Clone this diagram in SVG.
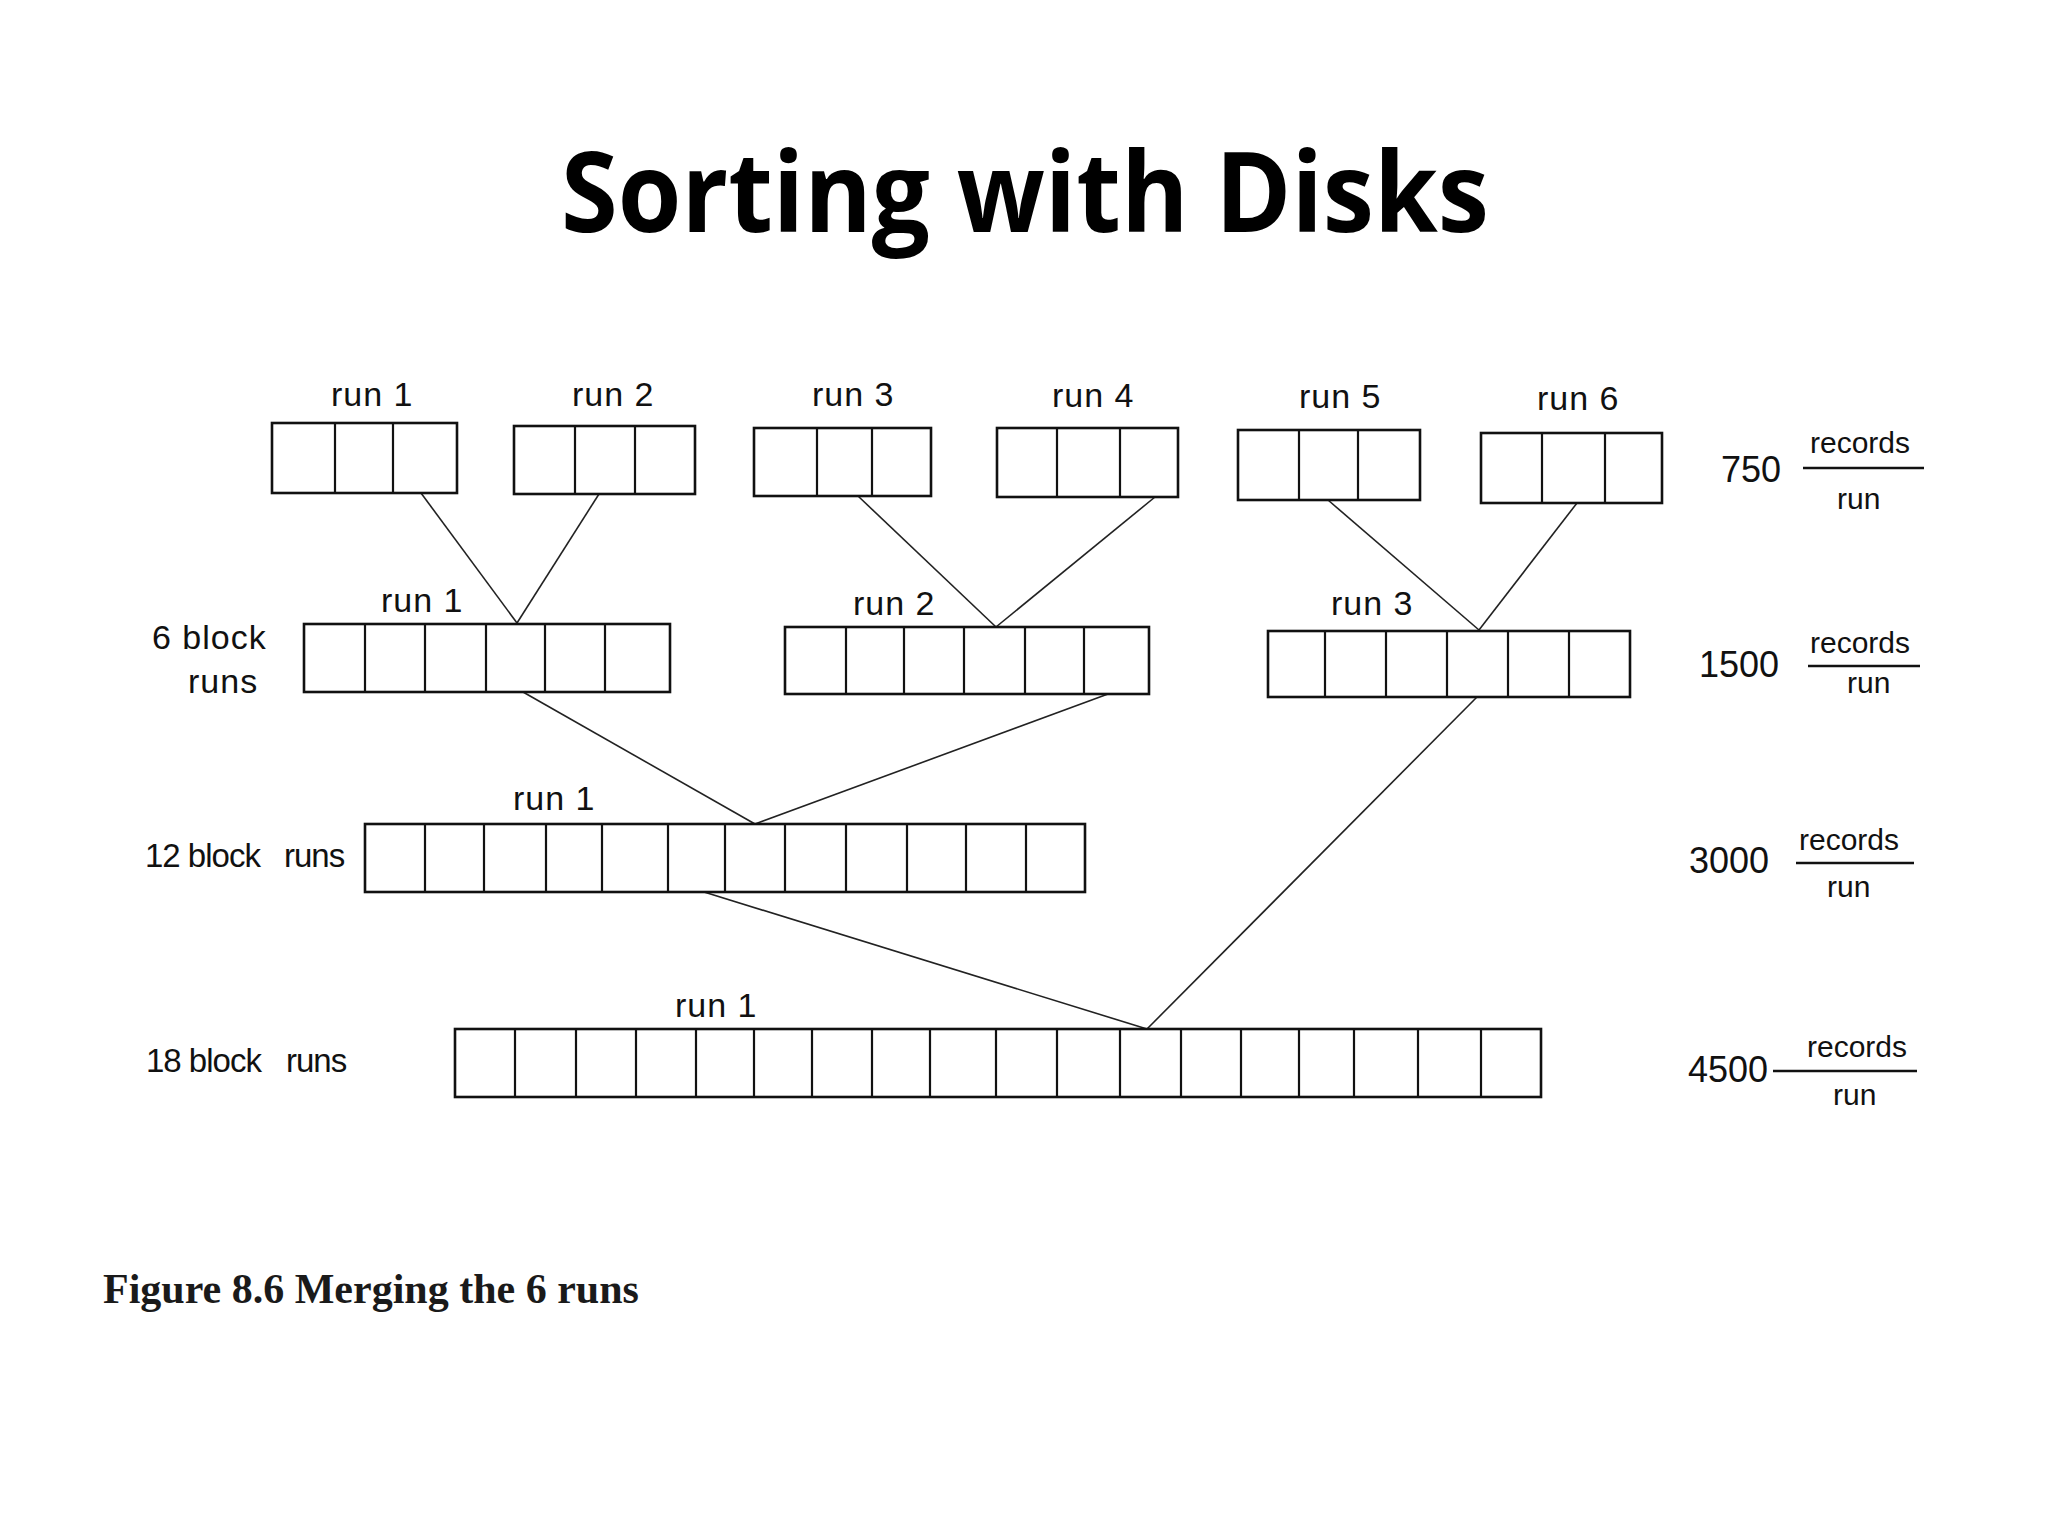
<svg xmlns="http://www.w3.org/2000/svg" width="2048" height="1536" viewBox="0 0 2048 1536">
<style>
.box{fill:none;stroke:#111;stroke-width:2.6}
.div{fill:none;stroke:#111;stroke-width:2.2}
.con{fill:none;stroke:#222;stroke-width:1.6}
.lbl{font-family:"Liberation Sans",Arial,sans-serif;font-size:34px;fill:#111;letter-spacing:1px}
.lbl2{font-family:"Liberation Sans",Arial,sans-serif;font-size:33px;fill:#111;letter-spacing:-1px}
.num{font-family:"Liberation Sans",Arial,sans-serif;font-size:36px;fill:#111}
.frac{font-family:"Liberation Sans",Arial,sans-serif;font-size:30px;fill:#111}
.fl{stroke:#111;stroke-width:2.6}
.title{font-family:"Open Sans","Liberation Sans",sans-serif;font-weight:bold;font-size:112px;fill:#000}
.cap{font-family:"Liberation Serif","Times New Roman",serif;font-weight:bold;font-size:42px;fill:#1a1a1a}
</style>
<rect width="2048" height="1536" fill="#fff"/>
<text class="title" x="1025" y="232" text-anchor="middle" textLength="928" lengthAdjust="spacingAndGlyphs">Sorting with Disks</text>

<g id="connectors">
<line class="con" x1="421" y1="493" x2="517" y2="623"/>
<line class="con" x1="599" y1="494" x2="517" y2="623"/>
<line class="con" x1="858" y1="496" x2="996" y2="627"/>
<line class="con" x1="1155" y1="497" x2="996" y2="627"/>
<line class="con" x1="1328" y1="500" x2="1479" y2="630"/>
<line class="con" x1="1577" y1="503" x2="1479" y2="630"/>
<line class="con" x1="523" y1="692" x2="755" y2="824"/>
<line class="con" x1="1108" y1="694" x2="755" y2="824"/>
<line class="con" x1="1477" y1="697" x2="1147" y2="1029"/>
<line class="con" x1="704" y1="892" x2="1147" y2="1029"/>
</g>

<g id="top-run1">
<text class="lbl" x="331" y="406">run 1</text>
<rect class="box" x="272" y="423" width="185" height="70"/>
<path class="div" d="M335 423V493M393 423V493"/>
</g>
<g id="top-run2">
<text class="lbl" x="572" y="406">run 2</text>
<rect class="box" x="514" y="426" width="181" height="68"/>
<path class="div" d="M575 426V494M635 426V494"/>
</g>
<g id="top-run3">
<text class="lbl" x="812" y="406">run 3</text>
<rect class="box" x="754" y="428" width="177" height="68"/>
<path class="div" d="M817 428V496M872 428V496"/>
</g>
<g id="top-run4">
<text class="lbl" x="1052" y="407">run 4</text>
<rect class="box" x="997" y="428" width="181" height="69"/>
<path class="div" d="M1057 428V497M1120 428V497"/>
</g>
<g id="top-run5">
<text class="lbl" x="1299" y="408" letter-spacing="0">run 5</text>
<rect class="box" x="1238" y="430" width="182" height="70"/>
<path class="div" d="M1299 430V500M1358 430V500"/>
</g>
<g id="top-run6">
<text class="lbl" x="1537" y="410" letter-spacing="0">run 6</text>
<rect class="box" x="1481" y="433" width="181" height="70"/>
<path class="div" d="M1542 433V503M1605 433V503"/>
</g>

<g id="mid-run1">
<text class="lbl" x="381" y="612">run 1</text>
<rect class="box" x="304" y="624" width="366" height="68"/>
<path class="div" d="M365 624V692M425 624V692M486 624V692M545 624V692M605 624V692"/>
</g>
<g id="mid-run2">
<text class="lbl" x="853" y="615">run 2</text>
<rect class="box" x="785" y="627" width="364" height="67"/>
<path class="div" d="M846 627V694M904 627V694M964 627V694M1025 627V694M1084 627V694"/>
</g>
<g id="mid-run3">
<text class="lbl" x="1331" y="615">run 3</text>
<rect class="box" x="1268" y="631" width="362" height="66"/>
<path class="div" d="M1325 631V697M1386 631V697M1447 631V697M1508 631V697M1569 631V697"/>
</g>

<g id="run12">
<text class="lbl" x="513" y="810">run 1</text>
<rect class="box" x="365" y="824" width="720" height="68"/>
<path class="div" d="M425 824V892M484 824V892M546 824V892M602 824V892M668 824V892M725 824V892M785 824V892M846 824V892M907 824V892M966 824V892M1026 824V892"/>
</g>

<g id="run18">
<text class="lbl" x="675" y="1017">run 1</text>
<rect class="box" x="455" y="1029" width="1086" height="68"/>
<path class="div" d="M515 1029V1097M576 1029V1097M636 1029V1097M696 1029V1097M754 1029V1097M812 1029V1097M872 1029V1097M930 1029V1097M996 1029V1097M1057 1029V1097M1120 1029V1097M1181 1029V1097M1241 1029V1097M1299 1029V1097M1354 1029V1097M1418 1029V1097M1481 1029V1097"/>
</g>

<g id="left-labels">
<text class="lbl" x="152" y="649">6 block</text>
<text class="lbl" x="188" y="693">runs</text>
<text class="lbl2" x="145" y="867">12 block</text>
<text class="lbl2" x="284" y="867">runs</text>
<text class="lbl2" x="146" y="1072">18 block</text>
<text class="lbl2" x="286" y="1072">runs</text>
</g>

<g id="rate750">
<text class="num" x="1721" y="482" font-size="37">750</text>
<text class="frac" x="1810" y="453">records</text>
<line class="fl" x1="1803" y1="468" x2="1924" y2="468"/>
<text class="frac" x="1837" y="509">run</text>
</g>
<g id="rate1500">
<text class="num" x="1699" y="677">1500</text>
<text class="frac" x="1810" y="653">records</text>
<line class="fl" x1="1808" y1="666" x2="1920" y2="666"/>
<text class="frac" x="1847" y="693">run</text>
</g>
<g id="rate3000">
<text class="num" x="1689" y="873">3000</text>
<text class="frac" x="1799" y="850">records</text>
<line class="fl" x1="1796" y1="863" x2="1914" y2="863"/>
<text class="frac" x="1827" y="897">run</text>
</g>
<g id="rate4500">
<text class="num" x="1688" y="1082">4500</text>
<line class="fl" x1="1773" y1="1071" x2="1917" y2="1071"/>
<text class="frac" x="1807" y="1057">records</text>
<text class="frac" x="1833" y="1105">run</text>
</g>

<text class="cap" x="103" y="1303">Figure 8.6 Merging the 6 runs</text>
</svg>
